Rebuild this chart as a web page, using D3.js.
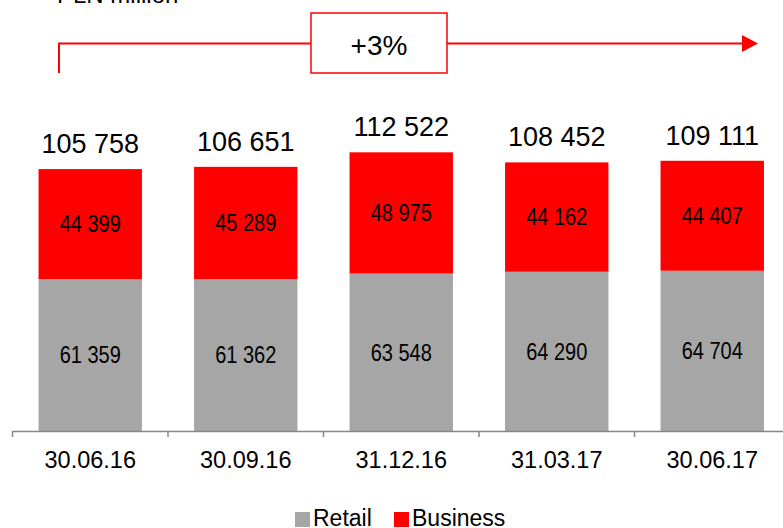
<!DOCTYPE html>
<html>
<head>
<meta charset="utf-8">
<script src="https://cdn.jsdelivr.net/npm/d3@7"></script>
<style>
  body { margin: 0; background: #fff; }
  svg { display: block; font-family: "Liberation Sans", Arial, sans-serif; }
</style>
</head>
<body>
<div id="chart"></div>
<script>
const width = 783, height = 528

// chart data, PLN million
const dates = ["30.06.16", "30.09.16", "31.12.16", "31.03.17", "30.06.17"]
const retail = [61359, 61362, 63548, 64290, 64704]
const business = [44399, 45289, 48975, 44162, 44407]
const totals = [105758, 106651, 112522, 108452, 109111]
const growthLabel = "+3%"
const unitLabel = "PLN million"

const svg = d3.select("#chart")
              .append("svg")
              .attr("width", width)
              .attr("height", height)

const x = d3.scaleBand()
            .domain(dates)
            .range([12.5, 790])
            .paddingInner(0.335)
            .paddingOuter(0.1675)

const y = d3.scaleLinear()
            .domain([0, 120000])
            .range([431, 133.8])

const fmt = v => d3.format(",")(v).replace(/,/g, " ")
const gap = (x.step() - x.bandwidth()) / 2

// unit label, mostly cut off at the top
svg.append("text")
   .attr("x", 57)
   .attr("y", 3)
   .attr("font-size", 24)
   .attr("fill", "#000")
   .text(unitLabel)

// bars
const rows = dates.map((d, i) => ({date: d, retail: retail[i], business: business[i], total: totals[i]}))

svg.selectAll(".retail")
   .data(rows)
   .enter()
   .append("rect")
   .attr("class", "retail")
   .attr("x", d => x(d.date))
   .attr("width", x.bandwidth())
   .attr("y", d => y(d.retail))
   .attr("height", d => y(0) - y(d.retail))
   .attr("fill", "#a6a6a6")

svg.selectAll(".business")
   .data(rows)
   .enter()
   .append("rect")
   .attr("class", "business")
   .attr("x", d => x(d.date))
   .attr("width", x.bandwidth())
   .attr("y", d => y(d.retail + d.business))
   .attr("height", d => y(d.retail) - y(d.retail + d.business))
   .attr("fill", "#ff0000")

// segment labels (slightly condensed, like the original)
function segLabel(cls, cy, val) {
    svg.selectAll("." + cls)
       .data(rows)
       .enter()
       .append("text")
       .attr("class", cls)
       .attr("transform", d => "translate(" + (x(d.date) + x.bandwidth() / 2) + "," + cy(d) + ") scale(0.87,1)")
       .attr("dy", "0.36em")
       .attr("text-anchor", "middle")
       .attr("font-size", 23)
       .text(d => fmt(val(d)))
}
segLabel("retail-label", d => (y(0) + y(d.retail)) / 2, d => d.retail)
segLabel("business-label", d => (y(d.retail) + y(d.retail + d.business)) / 2, d => d.business)

svg.selectAll(".total-label")
   .data(rows)
   .enter()
   .append("text")
   .attr("x", d => x(d.date) + x.bandwidth() / 2)
   .attr("y", d => y(d.retail + d.business) - 16)
   .attr("text-anchor", "middle")
   .attr("font-size", 27)
   .text(d => fmt(d.total))

// x axis: line, ticks between categories, labels centered
const axis = svg.append("g")
axis.append("line")
    .attr("x1", x.range()[0])
    .attr("x2", x.range()[1])
    .attr("y1", y(0) + 0.5)
    .attr("y2", y(0) + 0.5)
    .attr("stroke", "#868686")
    .attr("stroke-width", 1.5)

const tickPos = dates.map(d => x(d) - gap).concat([x(dates[dates.length - 1]) + x.bandwidth() + gap])
axis.selectAll(".tick")
    .data(tickPos)
    .enter()
    .append("line")
    .attr("x1", d => d)
    .attr("x2", d => d)
    .attr("y1", y(0))
    .attr("y2", y(0) + 6)
    .attr("stroke", "#868686")
    .attr("stroke-width", 1.5)

axis.selectAll(".xlabel")
    .data(dates)
    .enter()
    .append("text")
    .attr("x", d => x(d) + x.bandwidth() / 2)
    .attr("y", 468)
    .attr("text-anchor", "middle")
    .attr("font-size", 23.5)
    .text(d => d)

// growth arrow
const arrowY = 43.5
const boxX0 = 311, boxX1 = 447
const arrow = svg.append("g")
arrow.append("path")
     .attr("d", `M59,73 L59,${arrowY} L${boxX0},${arrowY}`)
     .attr("fill", "none")
     .attr("stroke", "#ff0000")
     .attr("stroke-width", 2)
arrow.append("line")
     .attr("x1", boxX1)
     .attr("x2", 744)
     .attr("y1", arrowY)
     .attr("y2", arrowY)
     .attr("stroke", "#ff0000")
     .attr("stroke-width", 2)
arrow.append("path")
     .attr("d", `M742,${arrowY - 8.5} L758,${arrowY} L742,${arrowY + 8.5} Z`)
     .attr("fill", "#ff0000")
arrow.append("rect")
     .attr("x", boxX0)
     .attr("y", 13)
     .attr("width", boxX1 - boxX0)
     .attr("height", 60)
     .attr("fill", "#fff")
     .attr("stroke", "#ff0000")
     .attr("stroke-width", 1.5)
arrow.append("text")
     .attr("x", (boxX0 + boxX1) / 2)
     .attr("y", 55)
     .attr("text-anchor", "middle")
     .attr("font-size", 28)
     .text(growthLabel)

// legend
const legend = [{name: "Retail", color: "#a6a6a6", x: 295}, {name: "Business", color: "#ff0000", x: 394}]
const lg = svg.selectAll(".legend")
              .data(legend)
              .enter()
              .append("g")
              .attr("transform", d => "translate(" + d.x + ",0)")
lg.append("rect")
  .attr("y", 512)
  .attr("width", 15)
  .attr("height", 15)
  .attr("fill", d => d.color)
lg.append("text")
  .attr("x", 18)
  .attr("y", 526)
  .attr("font-size", 23)
  .text(d => d.name)
</script>
</body>
</html>
